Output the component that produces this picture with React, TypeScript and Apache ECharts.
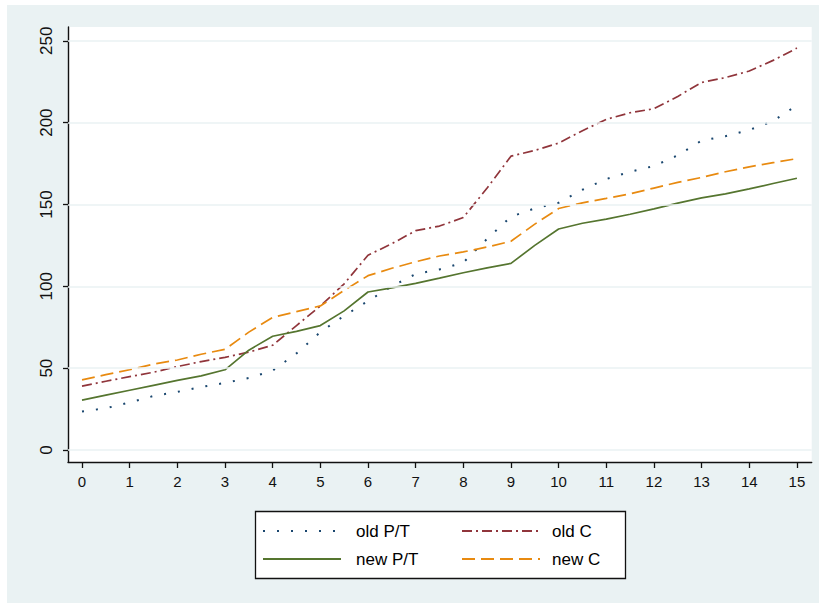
import React, { useEffect, useRef } from "react";
import * as echarts from "echarts";

const xValues = [0, 0.5, 1, 1.5, 2, 2.5, 3, 3.5, 4, 4.5, 5, 5.5, 6, 6.5, 7, 7.5, 8, 8.5, 9, 9.5, 10, 10.5, 11, 11.5, 12, 12.5, 13, 13.5, 14, 14.5, 15];
const oldPT = [23.5, 25.5, 29, 33, 35.5, 38.5, 41, 44, 48.5, 59, 72, 82, 91, 100, 107.5, 110.3, 114.5, 129, 142.5, 147.6, 151, 159, 165.5, 170, 173.5, 180, 189, 191.7, 195.5, 201, 210.5];
const oldC = [39, 42, 44.8, 47.5, 51, 54, 56.6, 59.8, 64, 76, 88, 101.5, 119, 126, 134, 136.8, 142, 160, 179.5, 183, 187.5, 195, 202, 206, 208.5, 216, 224.5, 227.5, 231.5, 238, 245.5];
const newPT = [30.5, 33.5, 36.5, 39.5, 42.5, 45.3, 49, 61, 69.5, 72.5, 76, 85, 96.5, 99, 101.8, 105, 108.3, 111.3, 114, 125, 135, 138.5, 141, 144, 147.3, 150.8, 154, 156.5, 159.5, 162.8, 166];
const newC = [42.8, 46, 49, 52.5, 55, 58.5, 61.5, 72, 81, 84.5, 88, 97.5, 106.5, 111, 115, 118.5, 121, 124, 127.5, 138, 147.5, 151, 153.7, 156.5, 160, 163.5, 166.5, 170, 173, 175.5, 178];
const xTicks = [0, 1, 2, 3, 4, 5, 6, 7, 8, 9, 10, 11, 12, 13, 14, 15];
const yTicks = [0, 50, 100, 150, 200, 250];
const seriesNames = ["old P/T", "old C", "new P/T", "new C"];
const seriesColors = ["#1a476f", "#90353b", "#55752f", "#e88a10"];
const seriesDash: (number[] | "solid")[] = [[2, 12], [10, 4, 2, 4], "solid", [13, 6]];

const FONT = "Liberation Sans, Arial, sans-serif";

export default function App() {
  const ref = useRef<HTMLDivElement>(null);
  useEffect(() => {
    document.body.style.margin = "0";
    const chart = echarts.init(ref.current!, null, { renderer: "svg" });
    const allData = [oldPT, oldC, newPT, newC];
    const lineSeries = allData.map((ys, i) => ({
      name: seriesNames[i],
      type: "line",
      z: 3,
      symbol: "none",
      silent: true,
      data: xValues.map((x, j) => [x, ys[j]]),
      lineStyle: { color: seriesColors[i], width: i === 0 ? 2 : 1.7, type: seriesDash[i], cap: "butt" },
    }));

    const legendRows = [
      { y: 531, cols: [0, 1] },
      { y: 559, cols: [2, 3] },
    ];
    const legendGraphics: any[] = [
      { type: "rect", shape: { x: 0, y: 0, width: 7, height: 603 }, style: { fill: "#fff" }, silent: true },
      { type: "rect", shape: { x: 0, y: 0, width: 819, height: 5 }, style: { fill: "#fff" }, silent: true },
      {
        type: "rect",
        shape: { x: 255.5, y: 511.5, width: 370, height: 67 },
        style: { fill: "#fff", stroke: "#111", lineWidth: 1.3 },
        silent: true,
      },
    ];
    const colKeyX = [263, 462];
    const colTextX = [356, 552];
    legendRows.forEach((row) => {
      row.cols.forEach((si, c) => {
        legendGraphics.push({
          type: "line",
          shape: { x1: colKeyX[c], y1: row.y, x2: colKeyX[c] + 78, y2: row.y },
          style: {
            stroke: seriesColors[si],
            lineWidth: si === 0 ? 2 : 1.8,
            lineDash: seriesDash[si] === "solid" ? null : seriesDash[si],
          },
          silent: true,
        });
        legendGraphics.push({
          type: "text",
          x: colTextX[c],
          y: row.y,
          style: {
            text: seriesNames[si],
            fontSize: 17,
            fontFamily: FONT,
            fill: "#000",
            verticalAlign: "middle",
            align: "left",
          },
          silent: true,
        });
      });
    });

    chart.setOption({
      animation: false,
      backgroundColor: "#eaf2f3",
      grid: {
        left: 68,
        right: 7.3,
        top: 27,
        bottom: 141,
        show: true,
        backgroundColor: "#ffffff",
        borderWidth: 0,
      },
      xAxis: {
        type: "value",
        min: -0.294,
        max: 15.31,
        axisLine: { show: true, onZero: false, lineStyle: { color: "#111", width: 1.4 } },
        axisTick: { show: true, length: 6, customValues: xTicks, lineStyle: { color: "#111", width: 1.3 } },
        axisLabel: { customValues: xTicks, fontSize: 15, color: "#111", fontFamily: FONT, margin: 12 },
        splitLine: { show: false },
      },
      yAxis: {
        type: "value",
        min: -7.33,
        max: 258.4,
        axisLine: { show: true, onZero: false, lineStyle: { color: "#111", width: 1.4 } },
        axisTick: { show: true, length: 5, customValues: yTicks, lineStyle: { color: "#111", width: 1.3 } },
        axisLabel: { customValues: yTicks, fontSize: 17, color: "#111", fontFamily: FONT, margin: 13, rotate: 90 },
        splitLine: { show: false },
      },
      series: [
        {
          name: "gridlines",
          type: "line",
          data: [],
          z: 1,
          silent: true,
          markLine: {
            silent: true,
            symbol: "none",
            label: { show: false },
            lineStyle: { color: "#eaf2f3", width: 1.6, type: "solid" },
            data: yTicks.map((v) => ({ yAxis: v })),
          },
        },
        ...lineSeries,
      ],
      graphic: legendGraphics,
    });
    return () => chart.dispose();
  }, []);
  return <div ref={ref} style={{ width: 819, height: 603 }} />;
}
